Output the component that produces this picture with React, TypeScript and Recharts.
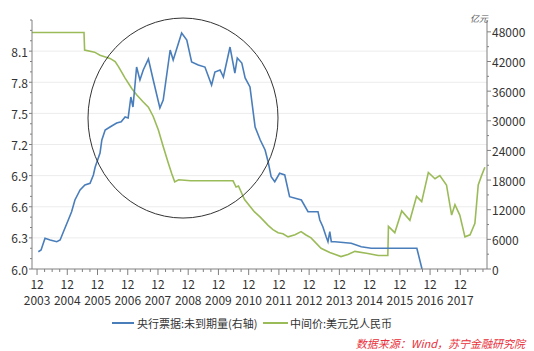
import { LineChart, Line, XAxis, YAxis, ReferenceLine, ReferenceDot } from "recharts";

// x values are fractional years (Dec = year + 11/12)
const years = [2003, 2004, 2005, 2006, 2007, 2008, 2009, 2010, 2011, 2012, 2013, 2014, 2015, 2016, 2017];
const leftLabels = [6.0, 6.3, 6.6, 6.9, 7.2, 7.5, 7.8, 8.1];
const rightLabels = [0, 6000, 12000, 18000, 24000, 30000, 36000, 42000, 48000];

// 央行票据:未到期量(右轴), 亿元
const billT = [
  2003.96, 2004.05, 2004.18, 2004.35, 2004.57, 2004.68, 2004.79, 2004.95, 2005.06, 2005.17,
  2005.34, 2005.5, 2005.67, 2005.78, 2005.84, 2006.0, 2006.06, 2006.17, 2006.33, 2006.55,
  2006.7, 2006.83, 2006.93, 2007.02, 2007.09, 2007.21, 2007.32, 2007.43, 2007.6, 2007.76,
  2007.98, 2008.09, 2008.32, 2008.42, 2008.7, 2008.87, 2009.03, 2009.25, 2009.47, 2009.69,
  2009.8, 2009.97, 2010.08, 2010.3, 2010.46, 2010.54, 2010.69, 2010.8, 2010.96, 2011.13,
  2011.3, 2011.46, 2011.56, 2011.66, 2011.78, 2011.94, 2012.11, 2012.27, 2012.66, 2012.88,
  2013.21, 2013.27, 2013.37, 2013.48, 2013.54, 2013.6, 2013.65, 2013.77, 2014.31, 2014.64,
  2014.97, 2016.48, 2016.65,
];
const billV = [
  3500, 3850, 6210, 5870, 5530, 5870, 7550, 9920, 11600, 13970,
  15990, 17000, 17350, 19030, 20650, 23480, 26110, 28130, 28740, 29550,
  29810, 30760, 30560, 34810, 32790, 40880, 38250, 40280, 42500, 38250,
  32590, 34200, 44330, 42300, 47770, 46350, 41900, 41290, 40880, 37240,
  39870, 40280, 38860, 44930, 39670, 42710, 41690, 38660, 36840, 28740,
  26110, 24090, 21720, 18680, 17670, 19370, 19030, 14630, 13970, 11600,
  11600, 9920, 8560, 6540, 5530, 7550, 5530, 5530, 5200, 4510,
  4190, 4190, 0,
];

// 中间价:美元兑人民币
const fxT = [
  2003.75, 2005.47, 2005.49, 2005.82, 2006.0, 2006.33, 2006.5, 2006.61, 2006.83, 2007.05,
  2007.21, 2007.43, 2007.6, 2007.76, 2007.93, 2008.09, 2008.26, 2008.37, 2008.47, 2008.6,
  2009.0, 2009.5, 2010.0, 2010.4, 2010.5, 2010.58, 2010.78, 2011.11, 2011.3, 2011.56,
  2011.72, 2011.89, 2012.05, 2012.22, 2012.45, 2012.65, 2012.8, 2012.98, 2013.31, 2013.6,
  2013.97, 2014.2, 2014.43, 2014.86, 2015.2, 2015.52, 2015.54, 2015.75, 2015.98, 2016.25,
  2016.47, 2016.64, 2016.86, 2017.08, 2017.24, 2017.46, 2017.63, 2017.74, 2017.9, 2018.07,
  2018.24, 2018.4, 2018.51, 2018.62, 2018.73,
];
const fxV = [
  8.28, 8.28, 8.11, 8.09, 8.06, 8.03, 8.0, 7.95, 7.84, 7.74,
  7.68, 7.61, 7.56, 7.47, 7.34, 7.18, 7.02, 6.92, 6.84, 6.86,
  6.85, 6.85, 6.85, 6.85, 6.79, 6.8, 6.67, 6.55, 6.5, 6.42,
  6.38, 6.35, 6.34, 6.31, 6.33, 6.36, 6.33, 6.3, 6.2, 6.16,
  6.12, 6.14, 6.17, 6.15, 6.13, 6.13, 6.41, 6.35, 6.56, 6.47,
  6.7, 6.65, 6.93, 6.87, 6.9, 6.81, 6.52, 6.62, 6.52, 6.31,
  6.33, 6.44, 6.81, 6.9, 6.98,
];

const billData = billT.map((t, i) => ({ t, v: billV[i] }));
const fxData = fxT.map((t, i) => ({ t, v: fxV[i] }));

const BLUE = "#4a7ebb";
const GREEN = "#9bbb59";
const AXIS = "#808080";
const TXT = "#333";
const FONT = '"Noto Sans CJK SC", "Open Sans", sans-serif';

// quarterly ticks, labels only on December
const xTicks: number[] = [];
for (let y = 2003; y <= 2018; y++) {
  for (const m of [2, 5, 8, 11]) {
    const t = y + m / 12;
    if (t >= 2003.75 && t <= 2018.8) xTicks.push(+t.toFixed(4));
  }
}
const leftTicks: number[] = [];
for (let i = 0; i <= 24; i++) leftTicks.push(+(6 + i * 0.1).toFixed(1));
const rightTicks: number[] = [];
for (let v = 0; v <= 48000; v += 3000) rightTicks.push(v);

const XTick = ({ x, y, payload }: any) => {
  const t = payload.value;
  const yr = Math.round(t - 11 / 12);
  const major = Math.abs(t - (yr + 11 / 12)) < 0.01 && years.includes(yr);
  return (
    <g>
      <line x1={x} x2={x} y1={y} y2={y + (major ? 6 : 3)} stroke={AXIS} />
      {major && (
        <>
          <text x={x} y={y + 14} textAnchor="middle" dominantBaseline="central" fontSize={12} fill={TXT} fontFamily={FONT}>
            12
          </text>
          <text x={x} y={y + 30} textAnchor="middle" dominantBaseline="central" fontSize={12} fill={TXT} fontFamily={FONT}>
            {yr}
          </text>
        </>
      )}
    </g>
  );
};

const LeftTick = ({ x, y, payload }: any) => {
  const v = payload.value;
  const major = leftLabels.some((l) => Math.abs(l - v) < 1e-6);
  return (
    <g>
      <line x1={x - (major ? 3 : 2)} x2={x} y1={y} y2={y} stroke={AXIS} />
      {major && (
        <text x={x - 4} y={y} textAnchor="end" dominantBaseline="central" fontSize={12} fill={TXT} fontFamily={FONT}>
          {v.toFixed(1)}
        </text>
      )}
    </g>
  );
};

const RightTick = ({ x, y, payload }: any) => {
  const v = payload.value;
  const major = rightLabels.includes(v);
  return (
    <g>
      <line x1={x} x2={x + (major ? 4 : 2)} y1={y} y2={y} stroke={AXIS} />
      {major && (
        <text x={x + 5} y={y} textAnchor="start" dominantBaseline="central" fontSize={12} fill={TXT} fontFamily={FONT}>
          {v}
        </text>
      )}
    </g>
  );
};

export default function App() {
  return (
    <div style={{ position: "absolute", left: 0, top: 0, width: 534, height: 351, background: "#fff", fontFamily: FONT }}>
      <LineChart width={534} height={351} margin={{ top: 20, right: 0, left: 0, bottom: 42 }}>
        <XAxis
          type="number"
          dataKey="t"
          domain={[2003.75, 2018.8]}
          ticks={xTicks}
          interval={0}
          tickSize={0}
          tickMargin={0}
          tickLine={false}
          tick={XTick}
          axisLine={{ stroke: AXIS }}
          height={40}
          allowDataOverflow
        />
        <YAxis
          yAxisId="left"
          orientation="left"
          type="number"
          domain={[6, 8.4]}
          ticks={leftTicks}
          interval={0}
          tickSize={0}
          tickMargin={0}
          tickLine={false}
          tick={LeftTick}
          axisLine={{ stroke: AXIS }}
          width={32}
          allowDataOverflow
        />
        <YAxis
          yAxisId="right"
          orientation="right"
          type="number"
          domain={[0, 50400]}
          ticks={rightTicks}
          interval={0}
          tickSize={0}
          tickMargin={0}
          tickLine={false}
          tick={RightTick}
          axisLine={{ stroke: AXIS }}
          width={47}
          allowDataOverflow
        />
        {leftLabels.slice(1).map((v) => (
          <ReferenceLine key={v} yAxisId="left" y={v} stroke="#ececec" strokeWidth={1} />
        ))}
        <Line
          yAxisId="left"
          data={fxData}
          dataKey="v"
          type="linear"
          stroke={GREEN}
          strokeWidth={1.6}
          dot={false}
          isAnimationActive={false}
        />
        <Line
          yAxisId="right"
          data={billData}
          dataKey="v"
          type="linear"
          stroke={BLUE}
          strokeWidth={1.6}
          dot={false}
          isAnimationActive={false}
        />
        <ReferenceDot
          yAxisId="left"
          x={2008.745}
          y={7.455}
          r={95}
          shape={(p: any) => <ellipse cx={p.cx} cy={p.cy} rx={95} ry={100} fill="none" stroke="#333" strokeWidth={1} />}
        />
      </LineChart>
      <div style={{ position: "absolute", left: 470, top: 13, width: 18, fontSize: 9, fontStyle: "italic", color: "#555", lineHeight: "12px" }}>
        亿元
      </div>
      <div style={{ position: "absolute", left: 112, top: 322, width: 22, height: 2, background: BLUE }} />
      <div style={{ position: "absolute", left: 137, top: 315, fontSize: 11, color: TXT, lineHeight: "16px", whiteSpace: "nowrap" }}>
        央行票据:未到期量(右轴)
      </div>
      <div style={{ position: "absolute", left: 263, top: 322, width: 25, height: 2, background: GREEN }} />
      <div style={{ position: "absolute", left: 290, top: 315, fontSize: 11, color: TXT, lineHeight: "16px", whiteSpace: "nowrap" }}>
        中间价:美元兑人民币
      </div>
      <div
        style={{
          position: "absolute",
          right: 9,
          top: 335,
          fontSize: 11,
          fontStyle: "italic",
          color: "#e8303a",
          lineHeight: "16px",
          whiteSpace: "nowrap",
        }}
      >
        数据来源：Wind，苏宁金融研究院
      </div>
    </div>
  );
}
